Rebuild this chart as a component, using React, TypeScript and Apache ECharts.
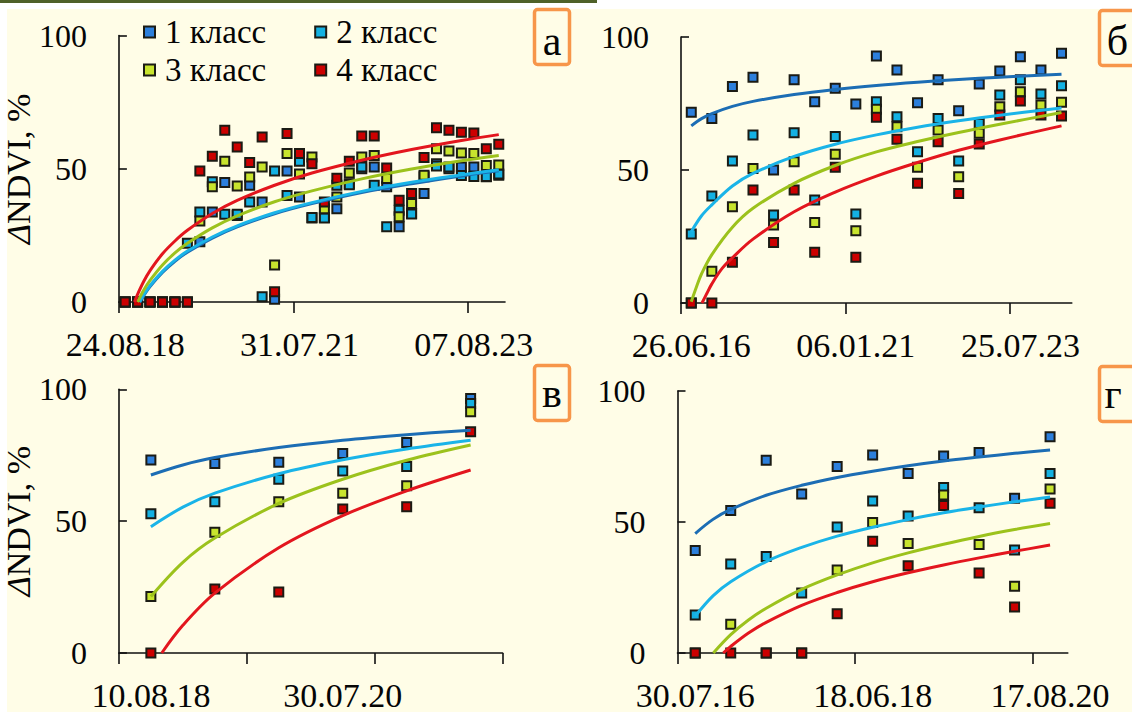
import React, { useEffect, useRef } from "react";
import * as echarts from "echarts";

const classNames = ["1 класс", "2 класс", "3 класс", "4 класс"];

// ---------- Panel а ----------
const aDateLabels = ["24.08.18", "31.07.21", "07.08.23"];
const aLabelAt = [1, 15, 29];
const aTickAt = [0.5, 14.5, 28.5];
const aClass1 = [0, 0, 0, 0, 0, 0, 22.6, 33.8, 44.8, 32.5, 43.8, 37.5, 1, 49.2, 39.4, 31.5, 31.7, 35.0, 44.4, 50.0, 50.7, 43.2, 28.2, 33.2, 40.7, 51.9, 50.0, 50.7, 50.7, 47.0, 47.6];
const aClass2 = [0, 0, 0, 0, 0, 22, 33.8, 45.1, 32.9, 32.9, 37.5, 2, 49.2, 40.0, 52.8, 31.7, 31.5, 43.8, 44.0, 50.7, 43.8, 28.2, 34.4, 33.0, 47.0, 51.0, 50.7, 47.5, 47.1, 47.1, 48.0];
const aClass3 = [0, 0, 0, 0, 0, 0, 30.4, 43.2, 52.8, 43.5, 46.9, 50.7, 13.9, 55.7, 48.0, 54.4, 35.0, 39.4, 48.4, 54.4, 55.0, 46.3, 32.0, 37.0, 47.6, 57.5, 56.7, 55.9, 55.7, 51.2, 51.4];
const aClass4 = [0, 0, 0, 0, 0, 0, 49.2, 54.7, 64.4, 58.2, 52.3, 61.9, 3.8, 63.2, 55.7, 51.9, 37.5, 46.4, 52.8, 62.3, 62.3, 50.3, 38.2, 40.7, 54.2, 65.4, 64.4, 63.7, 63.4, 57.5, 59.2];
const aTrend1 = [[2.2, 0], [2.5, 2.4], [3, 5.8], [4, 11.1], [5, 15.3], [6, 18.7], [8, 24.0], [10, 28.2], [13, 33.1], [16, 36.9], [20, 41.1], [24, 44.4], [28, 47.3], [31, 49.2]];
const aTrend2 = [[2.15, 0], [2.5, 2.8], [3, 6.2], [4, 11.5], [5, 15.7], [6, 19.1], [8, 24.4], [10, 28.6], [13, 33.5], [16, 37.3], [20, 41.5], [24, 44.9], [28, 47.7], [31, 49.6]];
const aTrend3 = [[2.0, 0], [2.5, 4.5], [3, 8.1], [4, 13.9], [5, 18.4], [6, 22.0], [8, 27.8], [10, 32.3], [13, 37.6], [16, 41.7], [20, 46.2], [24, 49.9], [28, 53.0], [31, 55.0]];
const aTrend4 = [[1.75, 0], [2, 2.9], [2.5, 7.8], [3, 11.8], [4, 18.1], [5, 22.9], [6, 26.9], [8, 33.2], [10, 38.1], [13, 43.8], [16, 48.4], [20, 53.2], [24, 57.2], [28, 60.6], [31, 62.8]];

// ---------- Panel б ----------
const bDateLabels = ["26.06.16", "06.01.21", "25.07.23"];
const bLabelAt = [1, 9, 17];
const bTickAt = [0.5, 8.5, 16.5];
const bClass1 = [71.7, 69.4, 81.4, 84.9, 50.0, 83.9, 75.7, 80.7, 74.8, 92.9, 87.6, 75.3, 83.9, 72.3, 82.3, 87.2, 92.6, 87.6, 93.9];
const bClass2 = [25.9, 40.2, 53.4, 63.2, 33.1, 64.0, 38.7, 62.6, 33.5, 75.7, 70.0, 56.9, 69.4, 53.4, 67.5, 78.2, 83.9, 78.6, 81.7];
const bClass3 = [0, 11.9, 36.2, 50.6, 29.3, 53.1, 30.3, 55.9, 27.2, 72.8, 66.3, 51.0, 65.0, 47.5, 63.8, 73.8, 79.4, 74.4, 75.5];
const bClass4 = [0, 0, 15.3, 42.5, 22.7, 42.5, 19.1, 51.0, 17.2, 69.8, 61.6, 45.0, 60.6, 41.2, 59.8, 70.7, 75.9, 70.7, 70.3];
const bTrend1 = [[1, 66.6], [1.5, 69.3], [2, 71.2], [3, 73.9], [4, 75.8], [6, 78.4], [8, 80.3], [10, 81.8], [12, 83.0], [14, 84.0], [16, 84.9], [19, 86.0]];
const bTrend2 = [[1, 26.8], [1.5, 32.8], [2, 36.9], [3, 44.0], [4, 48.7], [6, 55.1], [8, 59.7], [10, 63.2], [12, 66.1], [14, 68.5], [16, 70.6], [19, 73.3]];
const bTrend3 = [[1, 0.5], [1.25, 6], [1.5, 11], [2, 18.2], [3, 28.5], [4, 35.6], [6, 45.0], [8, 51.7], [10, 56.8], [12, 60.7], [14, 64.1], [16, 67.2], [19, 71.6]];
const bTrend4 = [[1.52, 0], [1.75, 3.5], [2, 7.2], [2.5, 13], [3, 17], [4, 24], [6, 34.3], [8, 41.7], [10, 47.7], [12, 52.8], [14, 57.4], [16, 61.3], [19, 66.6]];

// ---------- Panel в ----------
const vDateLabels = ["10.08.18", "30.07.20"];
const vLabelAt = [1, 4];
const vTickAt = [0.5, 2.5, 4.5, 6.5];
const vClass1 = [73.2, 71.9, 72.3, 75.7, 79.8, 96.5];
const vClass2 = [52.8, 57.4, 65.9, 69.0, 70.7, 94.6];
const vClass3 = [21.4, 45.8, 57.4, 60.6, 63.4, 91.5];
const vClass4 = [0, 24.3, 23.1, 54.6, 55.5, 83.9];
const vTrend1 = [[1, 67.5], [1.5, 71.3], [2, 74.1], [3, 77.9], [4, 80.7], [5, 82.8], [6, 84.5]];
const vTrend2 = [[1, 47.9], [1.5, 55.3], [2, 60.6], [3, 68.0], [4, 73.3], [5, 77.4], [6, 80.7]];
const vTrend3 = [[1, 21.4], [1.5, 34.4], [2, 43.6], [3, 56.7], [4, 65.9], [5, 73.1], [6, 78.9]];
const vTrend4 = [[1.17, 0], [1.5, 10.5], [2, 22.7], [3, 39.9], [4, 52.1], [5, 61.5], [6, 69.4]];

// ---------- Panel г ----------
const gDateLabels = ["30.07.16", "18.06.18", "17.08.20"];
const gLabelAt = [1, 6, 11];
const gTickAt = [0.5, 5.5, 10.5];
const gClass1 = [39.1, 54.4, 73.6, 60.7, 71.2, 75.6, 68.5, 75.2, 76.5, 59.1, 82.5];
const gClass2 = [14.5, 34.0, 36.8, 22.9, 48.1, 58.0, 52.3, 63.2, 55.4, 39.3, 68.5];
const gClass3 = [0, 11.0, 0, 0, 31.7, 49.8, 41.8, 60.3, 41.4, 25.5, 62.6];
const gClass4 = [0, 0, 0, 0, 15.0, 42.7, 33.3, 56.3, 30.5, 17.6, 57.2];
const gTrend1 = [[1, 45.6], [1.5, 51.0], [2, 54.8], [3, 60.2], [4, 64.0], [5, 67.0], [6, 69.4], [7, 71.5], [8, 73.3], [9, 74.8], [10, 76.2], [11, 77.5]];
const gTrend2 = [[1, 14.1], [1.5, 21.8], [2, 27.2], [3, 34.9], [4, 40.3], [5, 44.6], [6, 48.0], [7, 50.9], [8, 53.5], [9, 55.7], [10, 57.7], [11, 59.5]];
const gTrend3 = [[1.51, 0], [2, 7.0], [2.5, 12.6], [3, 17.1], [4, 24.3], [5, 29.8], [6, 34.4], [7, 38.2], [8, 41.5], [9, 44.5], [10, 47.1], [11, 49.4]];
const gTrend4 = [[1.79, 0], [2, 2.5], [2.5, 7.6], [3, 11.7], [4, 18.2], [5, 23.1], [6, 27.2], [7, 30.6], [8, 33.6], [9, 36.3], [10, 38.8], [11, 41.2]];

// ---------- styles ----------
const FONT = "Liberation Serif, Times New Roman, serif";
const TXT = "#050505";
const AX = "#111111";
const MARK = ["#2C7FDC", "#14B1E2", "#C8E42E", "#CC0000"];
const LINE = ["#1C6DB4", "#1AB4E8", "#9CC21C", "#E3161E"];
const BG = "#FFFDE7";
const ORANGE = "#F7964A";

type Panel = {
  letter: string;
  grid: { left: number; top: number; width: number; height: number };
  xMax: number;
  labels: string[];
  labelAt: number[];
  tickAt: number[];
  values: number[][];
  trends: number[][][];
  title: boolean;
  box: { x: number; y: number };
  letterX: number;
  letterY: number;
};

const panels: Panel[] = [
  {
    letter: "а",
    grid: { left: 114, top: 35.5, width: 391, height: 266.5 },
    xMax: 31.5,
    labels: aDateLabels, labelAt: aLabelAt, tickAt: aTickAt,
    values: [aClass1, aClass2, aClass3, aClass4],
    trends: [aTrend1, aTrend2, aTrend3, aTrend4],
    title: true,
    box: { x: 534.5, y: 9.5 }, letterX: 552, letterY: 41,
  },
  {
    letter: "б",
    grid: { left: 681, top: 37, width: 390.8, height: 266 },
    xMax: 19.5,
    labels: bDateLabels, labelAt: bLabelAt, tickAt: bTickAt,
    values: [bClass1, bClass2, bClass3, bClass4],
    trends: [bTrend1, bTrend2, bTrend3, bTrend4],
    title: false,
    box: { x: 1099.5, y: 10.5 }, letterX: 1117.5, letterY: 41,
  },
  {
    letter: "в",
    grid: { left: 112, top: 389.3, width: 390.6, height: 264 },
    xMax: 6.5,
    labels: vDateLabels, labelAt: vLabelAt, tickAt: vTickAt,
    values: [vClass1, vClass2, vClass3, vClass4],
    trends: [vTrend1, vTrend2, vTrend3, vTrend4],
    title: true,
    box: { x: 534.5, y: 365.5 }, letterX: 552, letterY: 393,
  },
  {
    letter: "г",
    grid: { left: 677.5, top: 391, width: 390.3, height: 264.7 },
    xMax: 11.5,
    labels: gDateLabels, labelAt: gLabelAt, tickAt: gTickAt,
    values: [gClass1, gClass2, gClass3, gClass4],
    trends: [gTrend1, gTrend2, gTrend3, gTrend4],
    title: false,
    box: { x: 1099.5, y: 366.5 }, letterX: 1113, letterY: 394,
  },
];

function buildOption() {
  const grid = panels.map((p) => ({ ...p.grid, containLabel: false }));
  const xAxis = panels.map((p, k) => ({
    gridIndex: k,
    type: "value",
    min: 0.5,
    max: p.xMax,
    axisLine: { show: true, onZero: false, lineStyle: { color: AX, width: 1.6 } },
    axisTick: { show: true, inside: false, length: 11, customValues: p.tickAt, lineStyle: { color: AX, width: 1.6 } },
    axisLabel: {
      customValues: p.labelAt,
      formatter: (v: number) => {
        const idx = p.labelAt.findIndex((x) => Math.abs(x - v) < 1e-6);
        return idx >= 0 ? p.labels[idx] : "";
      },
      margin: 42,
      verticalAlign: "middle",
      fontSize: 34,
      fontFamily: FONT,
      color: TXT,
    },
    splitLine: { show: false },
  }));
  const yAxis = panels.map((p, k) => ({
    gridIndex: k,
    type: "value",
    min: 0,
    max: 100,
    interval: 50,
    axisLine: { show: true, lineStyle: { color: AX, width: 1.6 } },
    axisTick: { show: true, inside: true, length: 8, lineStyle: { color: AX, width: 1.6 } },
    axisLabel: { margin: 32, fontSize: 32, fontFamily: FONT, color: TXT },
    splitLine: { show: false },
    name: p.title ? "{d|Δ}NDVI, %" : "",
    nameLocation: "middle",
    nameGap: 62,
    nameTextStyle: {
      fontSize: 34,
      fontFamily: FONT,
      color: TXT,
      rich: { d: { fontStyle: "italic", fontSize: 34, fontFamily: FONT, color: TXT } },
    },
  }));

  const series: any[] = [];
  panels.forEach((p, k) => {
    p.values.forEach((vals, c) => {
      series.push({
        type: "scatter",
        name: classNames[c],
        xAxisIndex: k,
        yAxisIndex: k,
        data: vals.map((v, i) => [i + 1, v]),
        symbol: "rect",
        symbolSize: 9,
        itemStyle: { color: MARK[c], borderColor: "#1b1b14", borderWidth: 2, opacity: 1 },
        z: 2,
      });
    });
  });
  panels.forEach((p, k) => {
    p.trends.forEach((tr, c) => {
      series.push({
        type: "line",
        name: "тренд " + (c + 1),
        xAxisIndex: k,
        yAxisIndex: k,
        data: tr,
        symbol: "none",
        showSymbol: false,
        smooth: 0.35,
        lineStyle: { color: LINE[c], width: 3 },
        z: 3,
      });
    });
  });

  const legendCommon = {
    left: 143,
    orient: "horizontal",
    icon: "rect",
    itemWidth: 11,
    itemHeight: 11,
    itemGap: 48,
    padding: 0,
    selectedMode: false,
    textStyle: { fontSize: 33, fontFamily: FONT, color: TXT, lineHeight: 36, padding: [0, 0, 0, 5] },
  };

  const graphic: any[] = [
    { type: "rect", silent: true, shape: { x: 0, y: 0, width: 1132, height: 9 }, style: { fill: "#ffffff" } },
    { type: "rect", silent: true, shape: { x: 0, y: 0, width: 7, height: 712 }, style: { fill: "#ffffff" } },
    { type: "rect", silent: true, shape: { x: 0, y: 0, width: 597, height: 3 }, style: { fill: "#4F6128" } },
  ];
  panels.forEach((p) => {
    graphic.push({
      type: "rect",
      silent: true,
      shape: { x: p.box.x, y: p.box.y, width: 35, height: 55, r: 3 },
      style: { fill: BG, stroke: ORANGE, lineWidth: 3.5 },
      z: 10,
    });
    graphic.push({
      type: "text",
      silent: true,
      x: p.letterX,
      y: p.letterY,
      style: { text: p.letter, fontSize: 42, fontFamily: FONT, fill: TXT, align: "center", verticalAlign: "middle" },
      z: 11,
    });
  });

  return {
    animation: false,
    backgroundColor: BG,
    textStyle: { fontFamily: FONT },
    grid,
    xAxis,
    yAxis,
    legend: [
      { ...legendCommon, top: 14, data: [classNames[0], classNames[1]] },
      { ...legendCommon, top: 52, data: [classNames[2], classNames[3]] },
    ],
    series,
    graphic,
  };
}

export default function App() {
  const ref = useRef<HTMLDivElement | null>(null);
  useEffect(() => {
    if (!ref.current) return;
    const chart = echarts.init(ref.current, undefined, { renderer: "svg" });
    chart.setOption(buildOption() as any);
    return () => chart.dispose();
  }, []);
  return (
    <div
      ref={ref}
      style={{ position: "absolute", left: 0, top: 0, width: 1132, height: 712 }}
    />
  );
}
